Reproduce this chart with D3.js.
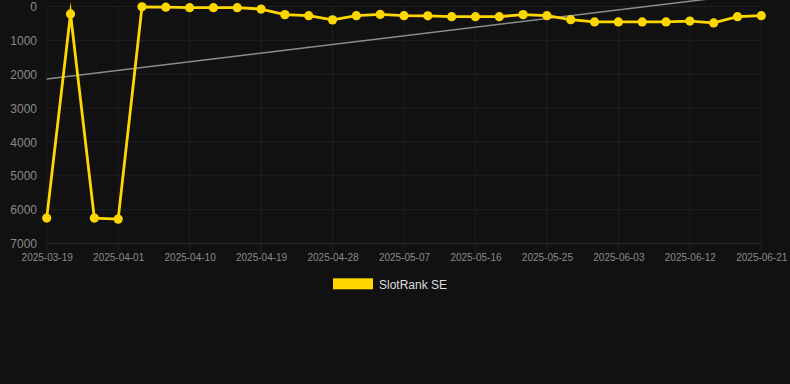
<!DOCTYPE html>
<html><head><meta charset="utf-8">
<script src="https://cdn.jsdelivr.net/npm/d3@7/dist/d3.min.js"></script>
<style>
html,body{margin:0;padding:0;background:#111111;}
svg{display:block;overflow:hidden;}
</style></head>
<body>
<svg id="chart" width="790" height="384"></svg>
<script>
const dates = ["2025-03-19","2025-03-23","2025-03-27","2025-04-01","2025-04-04","2025-04-07","2025-04-10","2025-04-13","2025-04-16","2025-04-19","2025-04-22","2025-04-25","2025-04-28","2025-05-01","2025-05-04","2025-05-07","2025-05-10","2025-05-13","2025-05-16","2025-05-19","2025-05-22","2025-05-25","2025-05-28","2025-05-31","2025-06-03","2025-06-06","2025-06-09","2025-06-12","2025-06-15","2025-06-18","2025-06-21"];
const ranks = [6250,220,6250,6280,10,20,35,35,35,75,240,270,395,270,235,270,275,300,300,300,240,270,390,455,455,455,455,430,485,300,270];
const trendValues = [2140,-410];
const yTicks = [0,1000,2000,3000,4000,5000,6000,7000];
const seriesName = "SlotRank SE";

const svg = d3.select("#chart");
const x = d3.scalePoint().domain(d3.range(dates.length)).range([46.7,761.3]);
const y = d3.scaleLinear().domain([0,7000]).range([6.5,243.5]);

const grid = svg.append("g");
grid.selectAll("line.h").data(yTicks).join("line")
  .attr("x1",x(0)).attr("x2",x(dates.length-1))
  .attr("y1",d=>y(d)).attr("y2",d=>y(d))
  .attr("stroke",d=>d===7000?"#2c2c2c":"#1f1f1f").attr("stroke-width",1);
const xTickIdx = d3.range(0,dates.length,3);
grid.selectAll("line.v").data(xTickIdx).join("line")
  .attr("x1",d=>x(d)).attr("x2",d=>x(d))
  .attr("y1",y(0)).attr("y2",y(7000)+10)
  .attr("stroke","#1f1f1f").attr("stroke-width",1);

const yAxis = d3.axisLeft(y).tickValues(yTicks).tickSize(0).tickPadding(0).tickFormat(d=>String(d));
const ya = svg.append("g").attr("transform","translate(37,0)").call(yAxis);
ya.select(".domain").remove();
ya.selectAll("text").attr("fill","#8a8a8a").style("font-family","Arial, 'Liberation Sans', sans-serif").style("font-size","12px").attr("dy","0.35em");

const xAxis = d3.axisBottom(x).tickValues(xTickIdx).tickSize(0).tickPadding(0).tickFormat(i=>dates[i]);
const xa = svg.append("g").attr("transform","translate(0,254)").call(xAxis);
xa.select(".domain").remove();
xa.selectAll("text").attr("fill","#8a8a8a").style("font-family","Arial, 'Liberation Sans', sans-serif").style("font-size","10px").attr("dy","0.71em");

svg.append("line")
  .attr("x1",x(0)).attr("x2",x(dates.length-1))
  .attr("y1",y(trendValues[0])).attr("y2",y(trendValues[1]))
  .attr("stroke","#8c8c8c").attr("stroke-width",1.5);

const line = d3.line().x((d,i)=>x(i)).y(d=>y(d));
svg.append("path").datum(ranks)
  .attr("d",line).attr("fill","none")
  .attr("stroke","#FFD700").attr("stroke-width",2.8)
  .attr("stroke-linejoin","miter").attr("stroke-miterlimit",10);
svg.selectAll("circle.pt").data(ranks).join("circle")
  .attr("cx",(d,i)=>x(i)).attr("cy",d=>y(d)).attr("r",4.6)
  .attr("fill","#FFD700");

const lg = svg.append("g");
lg.append("rect").attr("x",333).attr("y",278.3).attr("width",40).attr("height",11).attr("fill","#FFD700");
lg.append("text").attr("x",379).attr("y",288.5).text(seriesName)
  .attr("fill","#dddddd").style("font-family","Arial, 'Liberation Sans', sans-serif").style("font-size","12px");
</script>
</body></html>
